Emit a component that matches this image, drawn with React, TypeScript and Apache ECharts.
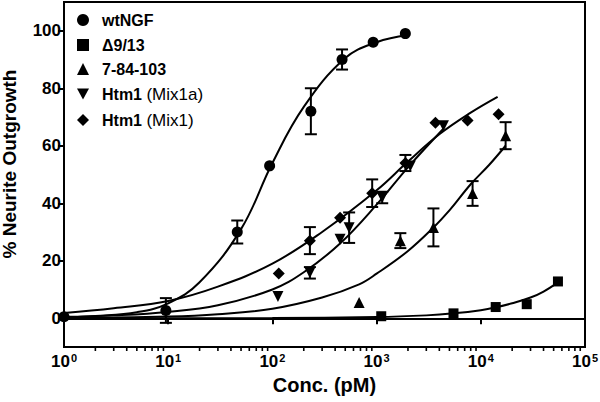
import React, { useEffect, useRef } from "react";
import * as echarts from "echarts";

// ---- data ----
const wtConc = [1, 9.5, 46, 94, 234, 466, 927, 1887];
const wtVal = [0.5, 2.7, 30, 53, 72, 90, 96, 99];
const wtErr = [0, 4.3, 4, 0, 8, 3.5, 0, 0];
const wtFitConc = [1, 2, 5, 10, 20, 50, 100, 200, 500, 1000, 2000];
const wtFitVal = [0.3, 0.8, 2.1, 5.2, 12.5, 31, 54, 73.5, 90.5, 96, 98.5];

const d913Conc = [1108, 5470, 13900, 27600, 55000];
const d913Val = [0.7, 1.7, 3.9, 4.9, 12.8];
const d913Err = [0, 0, 0, 0, 0];
const d913FitConc = [1, 100, 1000, 3000, 5500, 10000, 14000, 20000, 30000, 40000, 55000];
const d913FitVal = [0, 0.05, 0.4, 1, 1.7, 2.8, 3.8, 5.2, 7.2, 9.3, 12.5];

const m7Conc = [680, 1690, 3510, 8340, 17300];
const m7Val = [5.5, 27, 31.6, 43.4, 63.5];
const m7Err = [0, 2.6, 6.6, 4.3, 4.7];
const m7FitConc = [1, 10, 30, 100, 300, 680, 1000, 2000, 3500, 5000, 8000, 12000, 17300];
const m7FitVal = [0.1, 0.6, 1.4, 3.3, 7.2, 11.8, 15.5, 23.4, 31.5, 37.5, 46.6, 53.3, 60];

const mix1aConc = [113, 229, 446, 545, 1132, 2105, 4380];
const mix1aVal = [7.6, 15.8, 27.5, 31.5, 42, 53, 67];
const mix1aErr = [0, 2, 0, 5.3, 2, 0, 0];
const mix1aFitConc = [1, 3, 10, 30, 100, 200, 446, 1000, 2000, 4400];
const mix1aFitVal = [0.5, 1, 2.2, 4.5, 10, 16, 26, 39.5, 52.5, 66];

const mix1Conc = [115, 229, 446, 907, 1890, 3670, 7460, 14800];
const mix1Val = [15.6, 27, 35, 43.5, 54, 68, 68.8, 71];
const mix1Err = [0, 4.7, 0, 4.8, 2.8, 0, 0, 0];
const mix1FitConc = [1, 3, 10, 30, 100, 300, 1000, 2000, 4000, 8000, 14500];
const mix1FitVal = [1.8, 3.5, 6, 11, 19, 30, 44.5, 54.5, 64, 71.5, 77];

const seriesNames = ["wtNGF", "\u03949/13", "7-84-103", "Htm1 (Mix1a)", "Htm1 (Mix1)"];
const yTicks = [0, 20, 40, 60, 80, 100];
const minorTicks = [
  2, 3, 4, 5, 6, 7, 8, 9,
  20, 30, 40, 50, 60, 70, 80, 90,
  200, 300, 400, 500, 600, 700, 800, 900,
  2000, 3000, 4000, 5000, 6000, 7000, 8000, 9000,
  20000, 30000, 40000, 50000, 60000, 70000, 80000, 90000,
];

const FONT = '"Liberation Sans", Arial, Helvetica, sans-serif';
const BLACK = "#000";
const Y_MIN = -10;
const Y_MAX = 110;
const LEGEND_ROW_CENTERS = [15, 40, 64, 89, 115];

const pairs = (xs: number[], ys: number[]) => xs.map((x, i) => [x, ys[i]]);
const errData = (xs: number[], ys: number[], es: number[]) =>
  xs
    .map((x, i) => [x, ys[i] - es[i], ys[i] + es[i], es[i]])
    .filter((d) => d[3] > 0)
    .map((d) => [d[0], d[1], d[2]]);

const downTri = "path://M0,0 L10,0 L5,9 Z";

export default function App() {
  const ref = useRef<HTMLDivElement>(null);

  useEffect(() => {
    if (!ref.current) return;
    const chart = echarts.init(ref.current, undefined, { renderer: "svg" });

    const groups = [
      { name: seriesNames[0], c: wtConc, v: wtVal, e: wtErr, fc: wtFitConc, fv: wtFitVal, symbol: "circle", size: 11 },
      { name: seriesNames[1], c: d913Conc, v: d913Val, e: d913Err, fc: d913FitConc, fv: d913FitVal, symbol: "rect", size: 10 },
      { name: seriesNames[2], c: m7Conc, v: m7Val, e: m7Err, fc: m7FitConc, fv: m7FitVal, symbol: "triangle", size: 11 },
      { name: seriesNames[3], c: mix1aConc, v: mix1aVal, e: mix1aErr, fc: mix1aFitConc, fv: mix1aFitVal, symbol: downTri, size: 11 },
      { name: seriesNames[4], c: mix1Conc, v: mix1Val, e: mix1Err, fc: mix1FitConc, fv: mix1FitVal, symbol: "diamond", size: 12 },
    ];

    const series: any[] = [];
    groups.forEach((g) => {
      series.push({
        name: g.name + " fit",
        type: "line",
        data: pairs(g.fc, g.fv),
        smooth: 0.4,
        showSymbol: false,
        symbol: "none",
        lineStyle: { color: BLACK, width: 2 },
        z: 2,
        silent: true,
      });
      series.push({
        name: g.name + " err",
        type: "custom",
        clip: false,
        z: 3,
        silent: true,
        data: errData(g.c, g.v, g.e),
        renderItem: (params: any, api: any) => {
          const x = api.value(0);
          const lo = api.coord([x, api.value(1)]);
          const hi = api.coord([x, api.value(2)]);
          const cap = 6;
          const st = { stroke: BLACK, lineWidth: 2 };
          return {
            type: "group",
            children: [
              { type: "line", shape: { x1: lo[0], y1: lo[1], x2: hi[0], y2: hi[1] }, style: st },
              { type: "line", shape: { x1: lo[0] - cap, y1: lo[1], x2: lo[0] + cap, y2: lo[1] }, style: st },
              { type: "line", shape: { x1: hi[0] - cap, y1: hi[1], x2: hi[0] + cap, y2: hi[1] }, style: st },
            ],
          };
        },
      });
      series.push({
        name: g.name,
        type: "scatter",
        data: pairs(g.c, g.v),
        symbol: g.symbol,
        symbolSize: g.size,
        itemStyle: { color: BLACK, opacity: 1 },
        z: 4,
      });
    });

    // minor log ticks on the x axis
    series.push({
      name: "minor ticks",
      type: "custom",
      clip: false,
      silent: true,
      z: 5,
      data: minorTicks.map((t) => [t]),
      renderItem: (params: any, api: any) => {
        const p = api.coord([api.value(0), Y_MIN]);
        return {
          type: "line",
          shape: { x1: p[0], y1: p[1], x2: p[0], y2: p[1] + 4 },
          style: { stroke: BLACK, lineWidth: 1.6 },
        };
      },
    });

    const legends = seriesNames.map((n, i) => ({
      data: [n],
      orient: "vertical",
      left: 72,
      top: LEGEND_ROW_CENTERS[i] - 9,
      itemWidth: 12,
      itemHeight: 12,
      selectedMode: false,
      formatter: (name: string) =>
        name.startsWith("Htm1")
          ? "{b|Htm1} {n|" + name.slice(5) + "}"
          : "{b|" + name + "}",
      textStyle: {
        color: BLACK,
        fontFamily: FONT,
        fontSize: 16,
        lineHeight: 18,
        rich: {
          b: { fontSize: 16, fontWeight: "bold", color: BLACK, fontFamily: FONT, lineHeight: 18, padding: [0, 0, 0, 8] },
          n: { fontSize: 17, fontWeight: "normal", color: BLACK, fontFamily: FONT, lineHeight: 18 },
        },
      },
    }));

    chart.setOption({
      animation: false,
      backgroundColor: "#fff",
      textStyle: { fontFamily: FONT },
      grid: {
        left: 64,
        right: 15,
        top: 2,
        bottom: 55,
        containLabel: false,
        outerBoundsMode: "none",
        show: true,
        borderColor: BLACK,
        borderWidth: 2,
        backgroundColor: "transparent",
      },
      legend: legends,
      xAxis: {
        type: "log",
        logBase: 10,
        min: 1,
        max: 100000,
        name: "Conc. (pM)",
        nameLocation: "middle",
        nameGap: 4,
        nameTextStyle: { fontSize: 20, fontWeight: "bold", color: BLACK, fontFamily: FONT, verticalAlign: "top", padding: [22, 0, 0, 0] },
        axisLine: { show: true, lineStyle: { color: BLACK, width: 2 } },
        axisTick: { show: true, length: 6, lineStyle: { color: BLACK, width: 2 } },
        splitLine: { show: false },
        minorTick: { show: false },
        axisLabel: {
          margin: 5,
          color: BLACK,
          formatter: (val: number) => "{b|10}{s|" + Math.round(Math.log10(val)) + "}",
          rich: {
            b: { fontSize: 17, fontWeight: "bold", color: BLACK, fontFamily: FONT, lineHeight: 18, verticalAlign: "bottom" },
            s: { fontSize: 11, fontWeight: "bold", color: BLACK, fontFamily: FONT, lineHeight: 10, verticalAlign: "top", padding: [0, 0, 0, 1] },
          },
        },
      },
      yAxis: {
        type: "value",
        min: Y_MIN,
        max: Y_MAX,
        axisLine: { show: true, lineStyle: { color: BLACK, width: 2 } },
        axisTick: { show: true, length: 6, customValues: yTicks, lineStyle: { color: BLACK, width: 2 } },
        axisLabel: {
          customValues: yTicks,
          margin: 3,
          fontSize: 17,
          fontWeight: "bold",
          color: BLACK,
          fontFamily: FONT,
        },
        splitLine: { show: false },
      },
      graphic: [
        {
          type: "text",
          x: 9,
          y: 164,
          rotation: Math.PI / 2,
          style: {
            text: "% Neurite Outgrowth",
            fontSize: 19,
            fontWeight: "bold",
            fontFamily: FONT,
            fill: BLACK,
            align: "center",
            verticalAlign: "middle",
          },
        },
      ],
      series,
    });

    return () => chart.dispose();
  }, []);

  return (
    <div
      ref={ref}
      style={{ position: "fixed", left: 0, top: 0, width: 600, height: 402, background: "#fff" }}
    />
  );
}
